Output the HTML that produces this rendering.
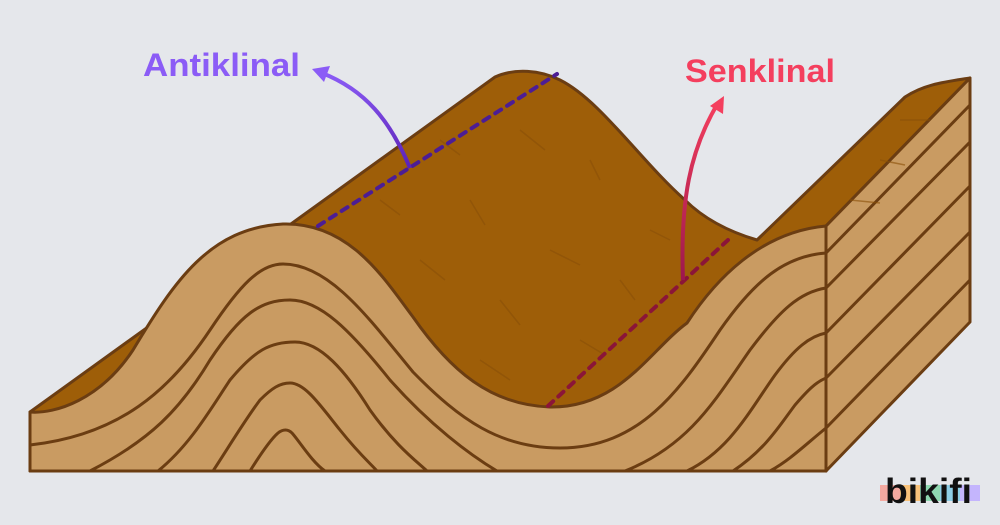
<!DOCTYPE html>
<html><head><meta charset="utf-8"><style>
html,body{margin:0;padding:0;background:#e5e7eb;}
svg{display:block}
</style></head><body>
<svg width="1000" height="525" viewBox="0 0 1000 525" xmlns="http://www.w3.org/2000/svg">
<defs>
<linearGradient id="ga" x1="0" y1="1" x2="0" y2="0"><stop offset="0" stop-color="#5b21b6"/><stop offset="1" stop-color="#8b5cf6"/></linearGradient>
<linearGradient id="gs" x1="0" y1="1" x2="0" y2="0"><stop offset="0" stop-color="#9d174d"/><stop offset="1" stop-color="#f43f5e"/></linearGradient>
</defs>
<rect width="1000" height="525" fill="#e5e7eb"/>
<g stroke="#6b3d12" stroke-width="3" stroke-linejoin="round">
<path d="M30,412 L495,77 C515,68 540,70 560,80 C600,100 640,160 685,200 C705,220 730,232 757,240 L905,97 C925,84 945,82 970,78 L826,226 L826,471 L30,471 Z" fill="#9e5e08"/>
<path d="M826,226 L970,78 L970,322 L826,471 Z" fill="#c99b62"/>
<path d="M30,412 C55,414 100,400 133,350 C175,280 210,228 283,224 C350,222 385,280 413,317 C450,370 490,405 550,407 C620,408 650,350 687,323 C715,280 760,232 826,226 L826,471 L30,471 Z" fill="#c99b62"/>
</g>
<g fill="none" stroke="#6b3d12" stroke-width="3">
<path d="M30,445 C120,435 170,390 210,330 C240,285 260,264 283,264 C330,264 370,320 413,372 C460,420 500,448 560,448 C640,448 680,390 720,330 C755,280 785,256 826,253"/>
<path d="M90,471 C150,440 180,410 210,360 C240,315 260,300 290,300 C320,300 350,330 390,380 C430,425 470,455 497,471"/>
<path d="M158,471 C190,445 210,410 230,380 C255,350 270,342 295,342 C320,342 345,370 370,410 C395,445 415,460 427,471"/>
<path d="M213,471 C230,445 245,420 260,400 C272,388 280,383 290,383 C305,383 320,405 340,430 C360,455 372,465 377,471"/>
<path d="M250,471 C260,455 270,440 278,433 C283,429 288,429 292,433 C300,442 312,462 325,471"/>
<path d="M625,471 C690,445 715,400 750,350 C780,310 800,292 826,288"/>
<path d="M687,471 C730,450 750,410 775,375 C795,348 810,336 826,333"/>
<path d="M733,471 C765,450 780,425 795,405 C808,390 816,382 826,378"/>
<path d="M770,471 C790,460 805,445 826,428"/>
<path d="M826,253 L970,105 M826,288 L970,142 M826,333 L970,186 M826,378 L970,232 M826,428 L970,280"/>
</g>
<g stroke="#8a5008" stroke-width="1.5" opacity="0.6">
<path d="M440,140 l20,15 M520,130 l25,20 M470,200 l15,25 M600,180 l-10,-20 M550,250 l30,15 M420,260 l25,20 M500,300 l20,25 M620,280 l15,20 M580,340 l25,15 M480,360 l30,20 M650,230 l20,10 M380,200 l20,15 M900,120 l30,0 M880,160 l25,5 M850,200 l30,3"/>
</g>
<path d="M318,226 L557,74" stroke="#4c1d95" stroke-width="4" stroke-dasharray="7,7" stroke-linecap="round" fill="none"/>
<path d="M548,406 L728,240" stroke="#8b1538" stroke-width="4" stroke-dasharray="7,7" stroke-linecap="round" fill="none"/>
<path d="M410,168 C390,120 365,90 322,73" stroke="url(#ga)" stroke-width="4" fill="none"/>
<path d="M312,69 L330,66 L324,82 Z" fill="#8b5cf6"/>
<path d="M683,280 C680,200 690,150 718,103" stroke="url(#gs)" stroke-width="4" fill="none"/>
<path d="M724,96 L723,114 L710,106 Z" fill="#f43f5e"/>
<text x="143" y="76" font-family="Liberation Sans, sans-serif" font-weight="bold" font-size="32" fill="#8b5cf6" textLength="157" lengthAdjust="spacingAndGlyphs">Antiklinal</text>
<text x="685" y="82" font-family="Liberation Sans, sans-serif" font-weight="bold" font-size="32" fill="#f43f5e" textLength="150" lengthAdjust="spacingAndGlyphs">Senklinal</text>
<rect x="880" y="485" width="20" height="16" fill="#f4a9a0"/>
<rect x="900" y="485" width="20" height="16" fill="#f8c27a"/>
<rect x="920" y="485" width="20" height="16" fill="#8fd8b0"/>
<rect x="940" y="485" width="20" height="16" fill="#8ecfe8"/>
<rect x="960" y="485" width="20" height="16" fill="#c4b5fd"/>
<text x="885" y="503" font-family="Liberation Sans, sans-serif" font-weight="bold" font-size="35" fill="#111" textLength="87" lengthAdjust="spacingAndGlyphs">bikifi</text>
</svg>
</body></html>
